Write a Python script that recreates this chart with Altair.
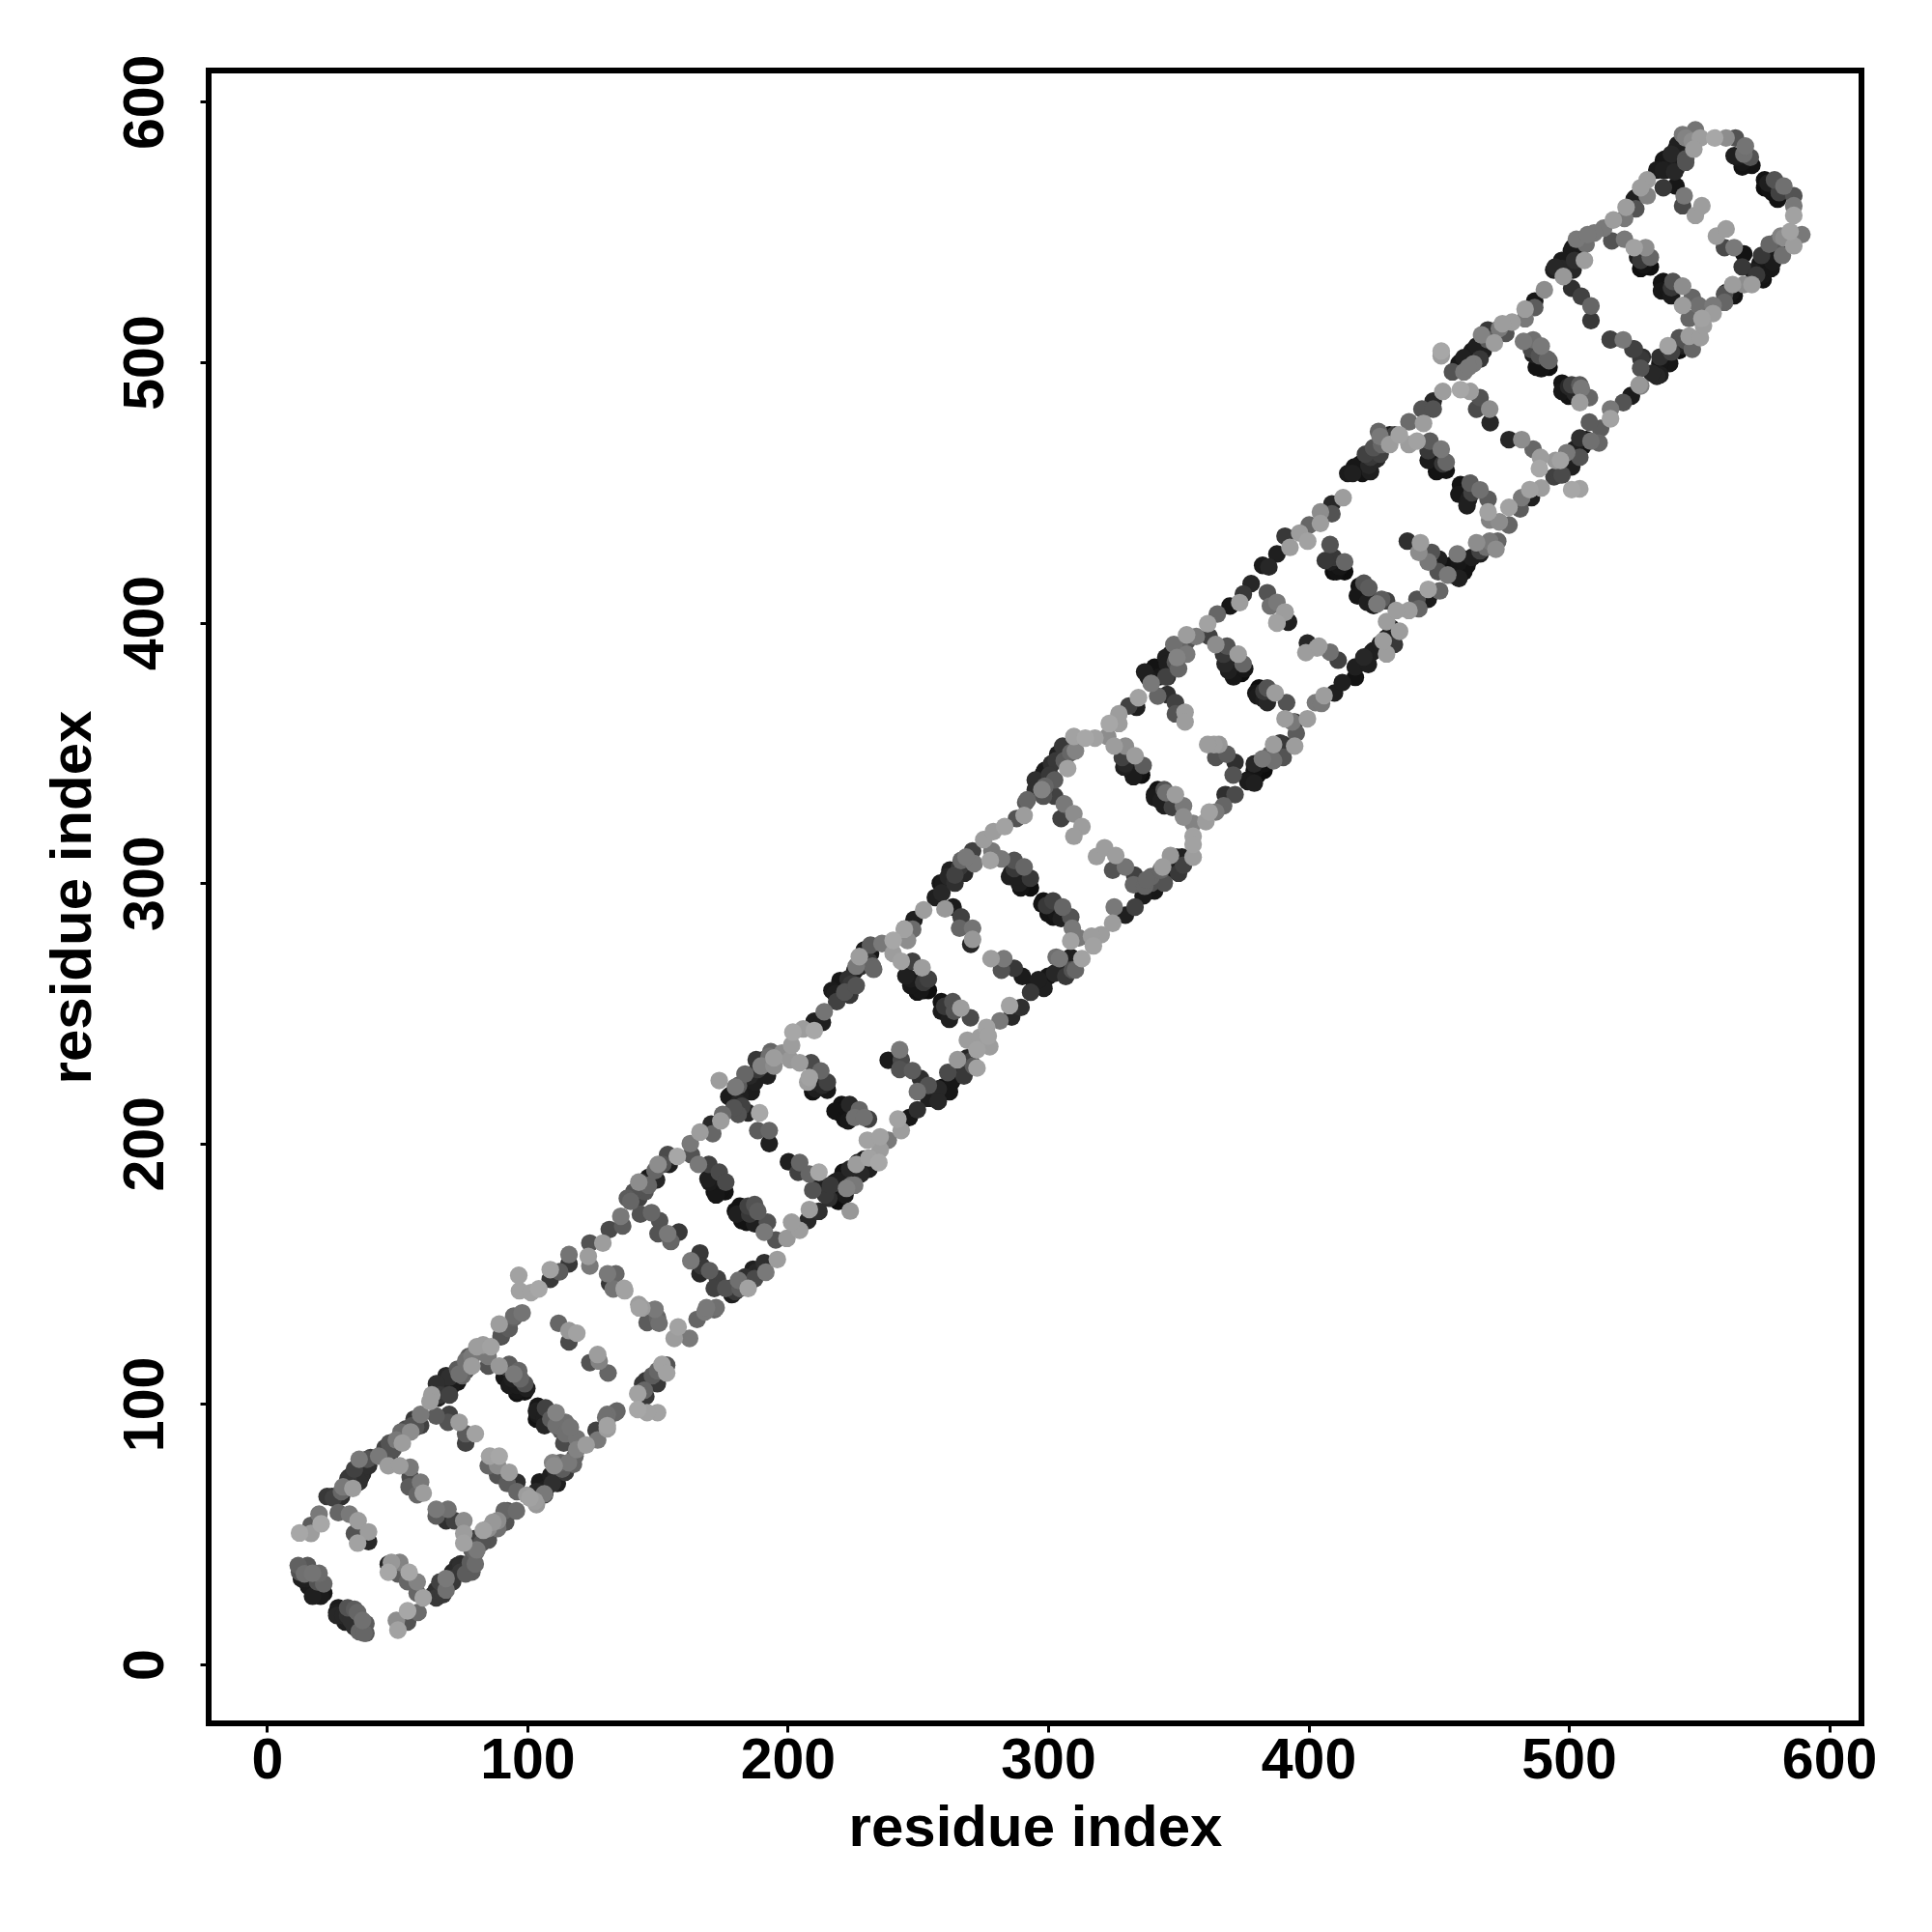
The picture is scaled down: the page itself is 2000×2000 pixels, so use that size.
import altair as alt
import pandas as pd

# (residue i, residue j, score); score 0 = black, 255 = white
seg_a = [(12,38,105),(15.6,38,95),(12.5,35.5,90),(15,33,30),(17.5,35,125),(20,35,115),(16,30,25),(18.7,27.4,20),(21.8,27.4,20),(21.8,31,110),
(27.4,21.8,25),(26.8,18.8,40),(31,21.8,90),(31,18.8,50),(30,16.3,30),(34.8,20,110),(33.6,14.4,50),(38,15.7,100),(38,12,95),(35.4,12.6,110),
(50.3,13.2,170),(49.7,16.9,150),(54,16.3,90),(54,20.6,175),(58,20,115),
(46.6,35.4,175),(46.6,38.5,40),(47.8,39.2,160),(51,39.2,140),(50.3,34.8,100),(54.6,35.4,175),(54,31.8,110),(57.7,31.7,140),(57.7,27.4,110),(60,25.6,170),
(65,25.6,60),(65,28.6,50),(68.8,28.6,120),(68.2,31.7,50),(71.3,31.7,60),(71.3,35.5,40),(74.4,35.5,60),(74.4,38.6,50),(78.7,35.5,100),(80,38.6,115),(80,42.9,110),(80.6,44,130),(78.7,47.8,60),(75.6,46.6,170),
(65,59.6,130),(69.5,59.6,120),(65,57,100),(68.8,55.2,50),(72,55.2,70),(75.6,55.2,150),(75.6,50.3,165),
(85,47.8,90),(85,52.2,150),(88.6,52.2,120),(88.6,55.2,150),(91.7,56.5,80),(92.3,59,90),(95.8,59,115),
(85.5,80,170),(89.2,80,175),(85,76.3,110),(88.6,76.3,150),(88.6,72.6,90),(93,73.8,165),(92.3,69.5,100),(96,70,50),(96,66.4,110),(99.8,65,165),
(102.9,62.7,165),(103.5,66.4,40),(106.5,65.5,130),(107,70,20),(109.6,69.5,50),(111,73.2,40),(114.6,73.8,60),(112.7,77.5,110),(117.7,76.9,110),(110.3,76.3,150),
(119,82.5,140),(122.6,84.3,165),(119,86.8,125),(127,86.2,130),(126.4,89.9,70),(130.7,90.5,165),(130.7,94.2,90),(134.4,97.3,110),(130.7,96,120),
(104,99.2,20),(104,96,25),(107,98.5,70),(107,93,30),(111,96.7,140),(114.6,93,120),(111,91.7,120),(114.6,88.6,120),(114,85,80)]
seg_b = [(85,114.6,90),(89.2,114.6,160),(93,115.2,100),(92.3,110.9,20),(96.7,112.8,110),(93,107.2,25),(96,107.2,25),(99,107.8,90),(99,104.7,15),(96,104.1,15),
(112,131,110),(116,128.2,160),(119,127.2,170),(116,123.9,80),(127,119,165),(127.6,116.5,140),(124,115.9,90),(131,111.9,110),
(150,96.7,170),(146,96.7,170),(142.4,97.9,175),(142.4,104,170),(145.5,102.9,60),(145.5,109,60),(148.6,108.4,50),(150,112.8,110),(151.7,115.2,170),(153.5,114.9,90),(153.5,111.9,170),
(156.4,125.2,165),(162.3,125.2,130),(157.9,129.6,170),(165.2,132.5,110),(168.2,135.4,130),(171.8,136.2,110),
(143,136.9,170),(146,135.7,90),(150,133.2,110),(146,131.3,100),(150.6,131,120),(144,136.9,165),
(12.5,50.5,175),(16.9,50.3,165),(16.9,53.4,100),(20,57.7,130),(20.8,54,175),
(25,64.5,60),(28.6,64.5,50),(29.2,68.2,130),(33,67.6,165),(31.7,72,40),(36,72,50),(35.4,78.8,130),(38.5,78.8,90),(39,76.3,50),(42.9,80,130),(47,80,60),(47,85,90),(46.6,76.3,165),(52,85,165),(51.5,89.3,115),(55.2,89.3,150),(55.8,91.7,90),(59,91.7,70),(59,96,130),
(51,76.3,165),(55,75.7,130),(55,72,80),(59,70,130),(54.6,68.2,100),(60,65.8,165),(57.7,65.2,110),
(27.4,58.3,110),(31.7,57.7,130),(35,55.2,165),(33.6,50.3,90),(39,50.9,165),(39,47.2,40),(34.8,46.6,170)]
seg_c = [(63.3,103.5,165),(66.4,103.5,60),(67,107.2,40),(70,110.3,50),(70.7,106.6,25),(73.8,111.5,120),(77.5,118.3,100),(78.7,114.6,165),(83,122.7,165),(86,122,170),(90,126.4,90),(89.2,130.7,165),(94.8,133.8,115),(98,135,125),(93,129,100),
(70,96,70),(73.8,93,165),(69.5,93,90),(76.3,88.6,100),(80,88.6,170),(76.3,85,70),(65,95.4,100),(62.6,101,165),
(96.7,149.4,170),(97,143.5,170),(101.4,142.8,170),(104.4,144.2,175),(108.8,147.9,60),(108.8,151.6,170),(112.4,150.8,100),(116,153.8,60),(116,157.4,125),(124,161.8,90),(123.4,156.7,165),(129,161.8,165),(131.5,167,80),(135.9,172.1,130),(136.6,168.4,100),
(124,153,130),(130.8,150,130),(137.4,143.5,170),(133,144.2,125),(137.2,144.4,170),(134,150,110),(131.6,146.3,60),(142.8,138.2,165),(149,136.4,130),
(138.4,179,100),(142.8,179,70),(145.2,181.5,90),(142.8,185.2,150),(146.5,187,20),(149.6,186,40),(150.2,192,150),(154.5,192,30),(153.9,195.8,80),(157.6,195.1,175),
(162.6,200,130),(163,195.7,90),(166.3,204.4,165),(170.6,207.5,40),(171.2,203.8,110),(175,211.2,115),(174.3,208.7,165),(173.7,224.2,165),
(179.3,217.4,15),(177.4,218,25),(181.7,218.6,30),(181.1,222.3,100),(186,222.3,20),(185.4,226,40),(188.5,228.5,60),(192.9,233.5,120),(194.7,232.9,165),(197.8,234.7,150),(201.5,237.8,165),(202,242.8,175),(201,232.2,160),(205.9,244,165),(210.2,243.4,175),(210.2,247,30),(213.3,246.5,30),(214,250.6,125),
(204.6,231,165),(209,231,80),(208.3,225.4,170),(212.7,227.9,110),(215.2,223.6,70),(210.8,221,30),(215.2,220.5,20),
(220.7,215,15),(223.8,215,40),(220,211.8,15),(223.2,208.7,20),(227.5,213,110),(231,209.4,70),
(230.6,201.3,170),(235.5,202.6,170),(235.5,197.6,165),(238.6,201.3,130),(235,192.7,175),(231.2,194.5,170),
(181,211.2,90),(189.2,211.8,175),(184.8,211.8,40),(192.9,205,110),(192.9,200,30),(188.5,205,100),(182.4,214.3,70),
(169.7,192,70),(165.7,192,130),(173.7,189,80),(176.2,185.2,80),(169.4,186.5,30),(175.9,181.5,15),(172.5,180.3,20),
(181.7,176,15),(180.5,172.9,30),(184.8,176,70),(188.5,174,100),(184.2,169.8,15),(192.2,169.8,90),(187.3,169.2,30),(191,166,130)]
seg_d = [(195.4,163,90),(199.7,163.6,160),(204.6,166.7,165),(201.5,169.8,165),(207.7,170.4,40),(212,174,50),(208.3,174.7,165),(224,174.1,160),
(217,179,10),(214.5,180.3,60),(222,180.3,25),(219.5,185.9,30),(223.2,186.5,10),(228.1,188.3,40),(226.3,192,165),(229.4,194,20),(231.2,190.2,30),(224.4,184,120),
(200.3,193,30),(204.6,192.7,110),(208.3,188.3,110),(204,189,70),(212,189,175),(212,184.6,30),(209.6,182.1,90),
(196,155.5,165),(191,154.3,50),(191.6,150.6,130),(186.7,151.8,30),(187.3,148.1,80),(181.1,147.5,120),(179.9,143.2,60),(184.8,144.4,170),(176.2,144.4,90),(173,148.1,70),(178.6,142,30),
(166.3,158,60),(162.8,155,130),(166.9,153,60),(170,151.2,100),(166.3,150,40),(171.8,144.4,70),(168.8,137,130),(172.5,137,120),
(147.7,173.5,110),(150.8,170.4,90),(143.4,172.9,90),(153.9,165.4,130),(158.2,166,60),(155.1,162.4,110),(150.2,165.4,90),
(218.2,257.6,30),(221.3,262,20),(224.4,261.3,60),(225.7,266.3,30),(221.9,258.2,90),(228.1,268.1,50),(227.5,271.8,165),(232.5,268.1,110),(231.8,273,20),(236.2,276.8,130),(240.5,278,175),(240.5,273,165),(246,278,150),(248,282.3,115),(244.8,282.3,170),
(244.9,282.4,130),(248.5,286,30),(252.2,289.7,165),
(247.9,270,70),(251.6,267.5,165),(243.6,270,170),(254,263.2,70),(247.3,263.2,25),(251,258.8,20),(254,258.8,10),
(259,254.5,15),(263.4,254.5,90),(259,250.8,25),(266.5,252,165),(262.1,247.7,30),(270.2,248.3,80),
(259,219.3,20),(262.8,223.6,15),(257.8,221,40),(266.5,229.8,50),(265.2,232.2,160),(270.2,231.6,70),(267.7,226,60),(272.7,229,170),(254,218.6,30),(249.8,213,50),(246.7,210,20),(242.3,209.4,170),(243.6,205,165),
(238.6,232,25),(243,236,130),(243.6,232.2,80),(247.9,228,100),(243,228.5,90),(251,225,50),(254,222.3,90),(249.8,220,120),
(269,239.7,165),(273.9,240.9,165),(276.4,244.6,170),(277.6,237.2,165),(272.7,236,170),(277,241.3,170),(281.5,247.1,130),(286,248.6,40),(289.6,252.3,50),(285.2,253,170),(294.7,260.3,25),(298.4,259.6,30),(293.3,258.1,60)]
seg_e = [(296.3,262.9,30),(300,264.2,20),(304.4,266.7,30),(304.4,271,130),(308.7,271.6,30),(309.3,266.7,90),(313,271,170),(317.4,275.9,170),(320.4,280.2,165),(316.7,279.6,165),(324.8,284.6,165),(325.4,290.8,130),(329.7,287.7,30),(333.4,290.8,70),
(308.7,277.8,170),(311.8,279,130),(308.7,287,90),(309.3,282.7,130),
(298.2,293.2,15),(301.9,293.2,70),(305.6,290.8,110),(301.9,287,15),(305,286.4,30),
(278.1,271,165),(283,271,130),(282.1,266.6,90),(287,267.3,60),(290.1,264.2,25),
(263.5,290.8,25),(260.4,290.1,160),(266.6,287,70),(271,282.7,125),(271,278.4,160),(266,282.7,110),(270.3,276.5,40),
(258.6,300,20),(256.7,294.5,30),(259.2,296.3,40),(262.3,305,30),(264.2,300,50),(266.6,308.7,110),(267.9,303.8,40),(271,312.4,70),(271.6,307.5,130),(275.3,316.7,165),(279,319.8,165),(278.4,312.4,130),(282.1,309.3,130),(277.8,308.7,170),(283.3,321.7,170),(287.9,324.8,90),(291.4,331,100),(290.8,326,165),(292,332,110),
(287,308.7,90),(290.8,306.2,110),(285.8,303.8,30),(293.2,301.9,60),(288.9,300,30),(293.2,298.2,10),
(295.1,339.6,50),(298.8,343.3,25),(302.5,339.6,100),(303.1,347,60),(306.2,350.8,30),(297.6,335.9,140),(307.5,344,170),(305.6,352.6,60),(310.5,350.8,140),(309.9,356.3,170),(314.3,355.7,175),(318,355.7,170),(322.9,356.3,150),(323.5,361.3,175),(327.2,361.3,165),(327.2,365,165),(331,368,70),(334.7,371.2,170),(334,367.5,30),(338.4,379.2,25),(342.1,382.3,15),(345.8,379.2,50),(345.2,386.6,30),(349.5,386.6,140),(350.1,382.3,110),(348.3,391.6,120),(353.2,395.3,165),(356.9,394.7,130),(361.9,394.7,70),(361.3,399.6,170),(365,403.3,110),(369.9,406.4,20),(373.6,407.7,165),
(302.5,333.4,70),(306.2,330.4,130),(298.2,333.4,90),(309.9,326.6,150),(313,321.7,165),(309.9,318,165),(305,324.8,70),
(318.6,310.2,165),(321.7,313.6,165),(326,310.6,165),(329.7,306.2,125),(324.8,305,90),(333.2,303.1,70),(332.8,299.4,110),
(325.4,352.6,165),(329.7,352.6,150),(333.4,348.9,165),(336.5,345.2,100),(329.7,345.8,40),(335.9,341.5,10),(332.8,340.9,25),
(342.1,335.9,15),(340.9,332.8,25),(344.6,335.9,90),(348.9,334,165),(344.6,329.7,30),(347.7,329.1,70),(352,329.7,130),(352,325.4,150)]
seg_f = [(355.7,322.9,140),(355.7,318,170),(360.6,323.6,165),(364.4,327.3,130),(361.9,327.3,170),(368,334,50),(371.8,334,80),(367.4,329.7,110),
(355.7,310,165),(355.7,314.9,170),(351.4,310,30),(352,306.9,70),(347.7,308.7,30),(347,310.6,160),(348.3,305,20),(344,306.2,165),(343.3,302.5,25),(339.6,302.5,110),(340.9,297,20),(337.1,298.8,110),(344.6,300,90),(336.5,295.1,25),
(363.7,353.2,165),(361.3,353.2,165),(365.6,353.2,160),(368.7,349.5,100),(364.4,348.3,90),(371.8,346.4,50),(371.1,341.5,90),
(376.7,339,25),(379.2,343.3,15),(382.9,343.3,10),(379.2,338.4,30),(382.3,347.7,130),(386.6,347,120),(386.6,353.2,165),(389.1,353.8,60),(390.3,348.3,90),(394.7,352.6,165),
(368.7,391,90),(373,387.9,165),(368,384.2,40),(374.9,384.2,110),(374.2,380.5,10),(371.2,379.2,20),(364.4,391.6,150),
(381,374.9,10),(384.2,374.9,90),(380.4,371.8,25),(387.2,373,165),(384.2,369.3,40),(391.6,369.3,90),(391,363.1,165),(394.7,361.9,60),(399.6,363.1,165),(395.3,357.6,100),(402.7,369.3,130),
(345.8,372.4,50),(348.9,369.3,70),(342.1,371.8,110),(352.6,365.6,165),(352.6,361.9,165),(348.9,365,90),
(392.2,400.2,30),(387.9,400.2,165),(391,404,165),(385.4,406.4,120),(399.6,392.2,40),(403.3,390.3,165),(399,388.5,165),
(404,391,165),(408.3,388.7,120),(411.4,385.6,70),(406,372,165),(410,373,30),(405,369,130),(413,377,30),(418,379,15),(418,383,30),(423,384,30),(393.8,361.9,130),
(425,389.3,30),(430,388,165),(433,391.7,60),(428.7,393,165),(435,396.7,165),(432.5,396.7,30),(430,400.4,165),(438.6,404.7,165),(433.7,404.7,165),(442.4,405.4,110),(446,409,25),(441.7,409,90),(446,412.8,170),(450.4,412.2,110),(421.3,386.8,40),
(419.5,414,15),(423.2,413.4,100),(418.8,410.3,20),(422.6,407.8,30),(430,408.4,70),(426.3,407.2,130),
(384.2,411.5,90),(387.9,407.8,130),(391,404.1,165),(392.3,400.4,30),(387.9,399.8,170),
(378,415,40),(375,411,60),(382.4,422,25),(384.8,421.4,40),(387.9,426.4,30),(392.9,428.9,165),(391,433.2,60),(396.6,434.4,165),(399.7,431.3,170),(400.3,437.5,110),(404.6,438.1,165),(404.6,442.5,150),(409,441.8,90),(409,445.6,40),(413.3,448,165),(417,457.3,30),(420,461,15),(423.8,458,30),(423.8,463.5,60),(427.5,464.7,70),(431.2,472.1,25),(427.5,471.5,130),(431.2,468.4,165),(434.9,472.1,170),(438.6,477.1,115),(444.2,476.5,165),(443.6,482,90),(447.9,482,90),(447.9,485.1,40),(451.6,488.8,165),(451,502.5,165),(451,504.3,175)]
seg_g = [(455.3,496.3,90),(458.4,500,20),(459.7,496.3,130),(462.8,504.3,25),(463.4,499.4,130),(467.1,504.3,30),(466.5,510.5,140),(470.8,511.7,50),(471.4,507.4,165),(478.2,515.4,165),(474.5,514.8,165),(483.2,516.7,130),(483.2,520.4,165),(486.9,523.5,20),(486.9,521,100),(490.6,527.8,150),
(441.7,469.7,170),(438.6,468.4,165),(408.3,430,90),(446.7,469.7,100),(451,466.6,130),(446,462.3,25),(452.9,461.6,110),(452.9,458.5,15),(449.2,458,15),
(458.4,453,15),(462.1,453.6,100),(457.8,449.3,20),(461.5,447.4,30),(465.9,451,120),(469,447.4,100),
(477,470.3,40),(481.9,470.3,150),(486.3,466.6,110),(489.1,463.5,165),(488.7,459.2,175),
(469,442.5,170),(469.6,439.4,140),(477,444.3,170),(473.3,438.7,150),(477,437.5,110),(481.3,443.7,100),(481.9,448,130),(485.6,448,30),(485,451.1,170),(489.4,451.7,165),
(501.1,451.1,175),(504.2,451.4,170),(497.4,456.7,80),(494.3,456,70),(499.9,459.8,15),(496.8,462.3,170),(504.2,463.5,90),(502.3,466.6,30),(506.7,470.3,15),(511.6,469,110),(512.2,474.6,100),(516,478.3,170),(516,482,130),(520.9,484.5,90),(524,487,25),(527,491.3,160),
(464.6,430.7,150),(469.6,431.3,130),(472,428.2,150),(472.7,431.3,110),(465.9,426.4,30),(457.8,423.3,20),(459.7,419.6,15),(454.7,422,15),(457.8,417,30),(453.5,418.3,130),
(438,431.3,50),(443,430.7,165),(447.3,427,90),(442.4,427,150),(450,424.5,30),(446,423.3,130),(449.8,419.6,90),
(462.1,488.8,165),(458.4,489.5,175),(465.9,486.4,90),(469.6,482,150),(464.6,482,80),(469.8,476.8,40),
(482.6,508,130),(486.3,508.6,120),(489.4,506.2,130),(486.3,503,30),(491.8,501.2,110),(489.4,497.5,15),(492.4,498.1,10),
(497.4,492,15),(501.1,491.3,70),(504.8,490,130),(499.9,487,15),(507.9,486.4,110),(504.2,484.5,165),(507.9,477,100),
(410.8,419.6,15),(413.9,419.6,10),(413.9,423.3,110),(408.3,423.3,30),
(508.5,521.6,110),(508.5,516,60),(504.8,525.3,70),(501.1,528.4,50),(516,508.6,60),(520.9,508.6,130),(524.6,505,70),(527.7,501.2,60)]
seg_h = [(527.6,490.9,140),(523.9,487.2,20),(533.8,494.6,40),(535,502,50),(538.7,499.5,20),(542.4,504.5,10),(542.4,509.4,90),(538.1,506.3,170),(547.4,505,110),(546.2,510,165),(550.5,509.4,165),(551.7,514.1,165),(559.8,523,110),(559.8,526.1,90),(555.4,521.8,130),(555.4,518.7,165),(563.5,525.5,15),(562.9,529.8,165),(567.2,529.8,150),(570.3,529.8,165),
(574.6,533.5,20),(570.9,534.8,30),(575.2,537.9,10),(574,541,60),(578.3,538.5,25),(577,545.3,110),(582,541,120),(580.8,544.7,15),(581.4,548.4,140),(586.4,544.7,165),(589.5,549,130),(585,550.2,170),
(556.7,548.4,165),(560.4,551.2,165),(559.8,544,80),(563.5,544,130),(567.2,541.6,15),(566.6,536.6,60),
(548.6,556.4,165),(551.1,560.1,165),(544.3,563.9,130),(543.7,560.1,80),(541.2,567.6,20),(536.3,567,60),
(575.2,570,15),(579,570,90),(575.2,567,10),(582.6,567.6,120),(578.3,565.1,15),(586.4,563.9,90),(586.4,560.1,130),(586.4,556.4,170),
(569.7,578.7,90),(567.8,583,125),(564,586.1,90),(560.4,586.1,150),(556,586.1,175),(570.3,575.6,15),(566.6,575,15),(563.5,579.3,30),
(548.6,589.2,125),(550.5,586.1,165),(544.9,586.1,140),(548,581.8,165),(544.9,578.1,90),(541.2,581.8,20),(543.7,581.2,15),(536.9,578,20),(541.2,574.4,30),(536.9,573.7,15),(533.8,573.8,25),(530.1,570,165),(530.1,563.9,140),(525.7,563.2,15),(525.7,558.9,90),(522,559.5,165),(521.4,555.2,130),(517.1,554.6,165),(513.4,551.5,130),(509.7,549.6,130),(506,547.2,50),(502.9,547.2,130),(504.1,542.8,15),(506,539.1,165),(501,542.8,25),(497.3,539.1,25),(501.6,535.4,40),(494.2,535.4,30),(497.9,532.9,160),
(525.1,544,170),(529.5,544,150),(531.3,540.3,110),(527.6,539.1,60),(531.3,536.6,10),(527.6,536,10),(521.4,547.2,130),(516.5,546.6,90),
(536.3,531,15),(540,531,90),(535.6,527.4,20),(539.4,525.5,25),(543.7,529.2,150),(547.4,524.9,110),(543.7,521.8,165),(549.9,521.8,120),(546.2,516.8,110),(551.1,516.8,170),
(515.9,508.8,70),(525.1,505.1,70),(528.2,502,50),(527.6,497.7,90)]
# second pass through the crowded clusters
seg_i = [(33.6,75,70),(36.7,73.2,45),(38.5,76.3,50),(39.8,79.4,70),(31.1,71.3,60),(35.4,70.1,50),(28.6,66.4,110),(25.5,63.9,70),(23.1,64.5,60),
(48.4,82.5,90),(45.3,83.1,70),(49.7,86.2,130),(53.4,90.5,80),(57.1,91.1,90),(56.5,94.2,60),
(65.1,107.8,50),(68.8,110.9,40),(70.7,109,25),(67.6,104.7,20),(65.7,102.3,30),(70.1,103.5,70),(73.2,113.4,100),(76.3,116.5,120),(75,110.9,110),(73.2,108.4,20),(78.7,118.3,130),(76.3,112.8,80),
(80.6,122,165),(84.9,118.3,130),(103.5,61.4,160),(101,63.9,170),(106.6,65.2,60),(104.7,70.1,25),(109,72.6,30),(111.5,69.5,30),(113.4,75,100),(109.7,77.5,140),(115.8,77.5,130),(118.3,80,110),(107.2,67.6,30),
(103.5,97.3,30),(103.5,94.2,15),(106.6,94.8,30),(106.6,91.7,40),(109,94.2,100),(112.8,89.9,100),(116.5,91.1,125),
(92.3,114,60),(94.2,109.7,30),(97.3,109.7,110),(91.1,110.3,20),(96,105.3,20),(99.8,106,30),(94.8,111.5,130),
(14.4,34.8,120),(13.2,33,30),(19.4,31.7,90),(17.5,26.2,30),(20.6,26.2,25),(15.6,31.1,25),(29.2,18.8,40),(32.3,16.9,50),(33.6,21.2,100),(37.3,12,110),(36.7,16.9,120),(26.8,20,30),
(66.4,31.7,70),(67.6,26.8,60),(71.3,33,60),(73.2,38,45),(76.3,34.8,100),(78.1,39.2,100),(63.9,26.8,50),(68.8,33,130),
(78.7,44.1,100),(80,48.4,70),(82.4,46.6,90),(83.1,51.5,170),(86.8,54.6,160),(91.1,59,110),(91.7,54.6,90),
(130.1,94.8,120),(133.8,96.7,110),(130.7,91.7,170),(94.8,133.2,105),(92.3,130.1,60),(89.9,125.8,80),(149.9,107.8,60),(144.3,107.8,60),(144.9,105.3,110),(148,110.9,100)]
seg_j = [(178,218.6,20),(179.9,221.7,130),(182.4,219.9,15),(184.8,224.8,20),(187.3,223.6,30),(183.6,226.7,110),(189.8,229.8,140),(187.9,232.2,60),(191,232.2,40),(193.5,235.3,110),(194.7,229.8,150),(192.2,226,30),(186,219.9,25),(181.1,215.5,40),(179.3,213.7,90),
(218.2,185.2,15),(221.3,189,15),(223.8,190.2,40),(226.9,192.7,40),(229.4,190.8,25),(225.7,184,130),(215.8,179,50),(219.5,177.8,10),(222.6,182.8,140),(216.4,184,60),(231.2,193.9,30),
(255.3,218.6,15),(259.7,221.7,15),(262.1,219.9,20),(263.4,224.8,20),(265.9,228.5,15),(268.9,232.9,40),(271.4,229.8,100),(261.5,227.3,80),(254.1,217.4,30),(257.8,216.2,40),
(217,258.8,25),(220.1,262.6,20),(223.2,263.2,50),(218.8,254.5,70),(226.3,260.7,90),(226.3,268.1,130),(231.2,270,60),(231.8,276.2,100),(229.4,274.3,25),(233,266.9,110),(223.8,257,60),
(247.3,260.7,20),(249.8,258.2,15),(252.2,258.8,10),(252.2,261.9,60),(245.4,264.4,30),(261.5,249.6,25),(260.3,252.7,60),(264,250.8,90),
(218.2,212.5,15),(221.9,209.4,15),(225.7,210,120),(222.6,213.7,15),(229.4,210,120),(179.9,174.1,15),(182.4,170.4,15),(185.4,172.9,60),(187.3,176.6,90),
(210.8,223.6,40),(209.6,219.9,15),(213.3,222.4,40),(207.7,223.6,165),(170,185.2,25),(171.8,181.5,15),(174.3,182.2,15),
(140.9,181.5,90),(144,185.2,40),(142.8,181.5,30),(146.5,184,110),(149,189.6,110),(152,192,90),(154.5,194.5,40),(139.7,177.8,110),
(183.6,148.8,50),(185.4,146.9,25),(187.9,150.6,40),(181.7,144.4,100),(178,144.4,40),(189.8,151.8,40)]
seg_k = [(340.9,382.9,15),(342.7,379.2,20),(345.8,384.2,30),(347,387.9,20),(348.9,384.8,90),(350.7,390.3,110),(353.2,387.9,130),(353.2,392.8,90),(339.6,376.7,130),(337.1,381.1,30),(345.2,379.2,70),
(296.3,339.6,30),(298.2,342.1,15),(300.6,341.5,60),(301.3,345.8,50),(303.7,349.5,30),(306.2,347,100),(308.7,350.1,110),(295.1,335.9,50),(298.8,337.2,110),
(338.4,296.9,20),(342.1,300,15),(344.6,303.8,20),(345.8,306.8,30),(349.5,309.9,15),(350.1,303.8,60),(343.3,305,110),(339.6,300,90),(337.8,301.3,110),
(376.7,339.6,20),(380.4,341.5,10),(382.9,345.8,15),(379.2,345.8,40),(385.4,349.5,110),(388.5,350.8,50),(390.3,353.2,50),
(305,269.1,40),(308.1,269.1,20),(302.5,265.4,40),(306.8,264.2,60),(310.5,266.7,110),(303.1,271.6,120),
(369.3,381.7,30),(372.4,382.3,15),(375.5,382.3,20),(367.4,387.9,60),(329.1,344.6,30),(332.2,342.7,15),(334.7,342.1,15),(328.5,348.3,70),
(340.9,334,20),(343.3,331.6,30),(346.4,331,25),(345.2,334.7,120),(379.8,373,20),(382.9,370.6,30),(382.9,373.6,60),
(285.2,302.5,30),(287,305.6,60),(289.5,298.2,15),(288.3,302.5,30),(297.6,292,15),(300,288.3,15),(303.1,288.3,20),(299.4,291.4,60),
(259.8,300,25),(261.7,302.5,40),(264.2,303.1,70),(266,306.2,60),(268.5,310,130)]
seg_l = [(415.1,457.3,25),(417.6,459.8,20),(420.7,457.3,15),(423.2,460.4,40),(421.9,464.7,70),(426.3,462.9,40),(425,467.2,90),(428.1,468.4,110),(430,469.7,30),(433.1,472.1,70),(426.9,473.4,110),
(457.8,499.4,20),(459.7,501.8,30),(461.5,498.1,130),(464.6,506.2,30),(465.9,501.2,60),(468.9,512.4,60),(468.9,508.6,100),(473.3,513,130),(475.8,511.1,90),
(456.6,419.6,15),(459.7,424.5,15),(462.8,425.1,30),(457.2,426.4,130),(455.3,418.3,20),(460.9,422,15),(465.9,427.6,70),(468.3,428.9,120),
(496.2,456.7,70),(498,461,20),(501.1,459.8,30),(502.3,463.5,15),(505.4,467.8,15),(504.2,470.9,50),(508.5,469.7,120),(499.2,465.3,130),(494.9,462.3,160),
(422.6,410.9,15),(425,406.6,30),(428.1,409,100),(421.3,415.2,90),(459.7,449.9,15),(462.8,449.9,70),(460.9,444.9,30),
(430,394.2,30),(431.8,397.9,20),(427.5,391.8,30),(424.4,388.6,20),(409.6,419.6,10),(412,421.4,20),(409.6,425.1,60),(406.5,423.9,60),
(487.5,498.1,15),(488.7,502.5,90),(485.6,504.9,80),(492.4,500.6,110),(447.3,462.3,15),(449.8,458.5,15),(451.6,461,60),(446,466,60),
(497.4,488.8,20),(499.9,490.7,40),(502.3,488.2,40),(504.2,491.3,100)]
seg_m = [(536.3,577.5,15),(538.7,575.6,15),(539.4,579.9,40),(541.8,583.6,30),(543.7,579.3,30),(536.3,573.8,30),(540.6,573.1,40),(544.9,576.8,90),(547.4,584.9,150),(543.7,587.4,130),
(573.4,537.9,20),(575.8,541.6,15),(577.7,536,20),(579.6,542.2,15),(582,542.8,20),(572.1,533.5,60),(580.2,546.5,100),(582.6,547.8,150),(574.6,531.7,15),
(535,499.5,20),(537.5,502,15),(539.4,503.9,70),(541.8,507,40),(543.7,506.3,30),(544.9,508.2,90),(535,495.2,30),(531.9,495.8,40),
(501.6,544,15),(504.1,546.5,30),(506.6,545.3,120),(499.8,539.1,20),(497.3,536,40),(502.2,539.1,50),(494.8,536.6,40),(507.2,549,130),
(577.1,566.3,15),(576.5,568.8,30),(580.8,565.1,70),(580.2,562.6,15),(564.7,578.7,25),(566.6,576.8,20),(567.2,579.9,120),
(526.4,540.4,30),(528.8,537.3,15),(535.6,530.5,15),(538.1,528,20),(539.4,528.6,60),(560.4,526.7,25),(562.2,526.7,20),(525.1,562.6,30),(527.6,567,165)]

rows = [r for seg in (seg_a, seg_b, seg_c, seg_d, seg_e, seg_f, seg_g, seg_h, seg_i, seg_j, seg_k, seg_l, seg_m) for r in seg]
df = pd.DataFrame(rows, columns=["i", "j", "score"]).sort_values("score", kind="stable")

tick_values = [0, 100, 200, 300, 400, 500, 600]
FONT = "Liberation Sans"

chart = (
    alt.Chart(df)
    .mark_circle(size=335, opacity=1)
    .encode(
        x=alt.X("i:Q", scale=alt.Scale(domain=[-22.4, 612.4], nice=False, zero=False),
                axis=alt.Axis(values=tick_values, title="residue index", grid=False, domain=False,
                              tickSize=9, tickWidth=3, tickColor="black", labelFontSize=59,
                              labelFontWeight="bold", labelFont=FONT, labelColor="black", labelPadding=0,
                              labelFlush=False, labelOverlap=False, format="d",
                              titleFontSize=60, titleFontWeight="bold", titleFont=FONT, titleColor="black",
                              titlePadding=11)),
        y=alt.Y("j:Q", scale=alt.Scale(domain=[-22.6, 612], nice=False, zero=False),
                axis=alt.Axis(values=tick_values, title="residue index", grid=False, domain=False,
                              tickSize=9, tickWidth=3, tickColor="black", labelFontSize=59,
                              labelFontWeight="bold", labelFont=FONT, labelColor="black", labelAngle=270,
                              labelAlign="center", labelBaseline="bottom", labelPadding=27,
                              labelFlush=False, labelOverlap=False, format="d",
                              titleFontSize=60, titleFontWeight="bold", titleFont=FONT, titleColor="black",
                              titlePadding=15)),
        color=alt.Color("score:Q", legend=None,
                        scale=alt.Scale(domain=[0, 255], range=["#000000", "#ffffff"])),
    )
    .properties(width=1711, height=1711, padding={"left": 208, "top": 65, "right": 65, "bottom": 200},
                autosize=alt.AutoSizeParams(type="none"), background="white")
    .configure_view(stroke="black", strokeWidth=6)
)

chart.save("out.html", embed_options={"renderer": "svg", "actions": False})
